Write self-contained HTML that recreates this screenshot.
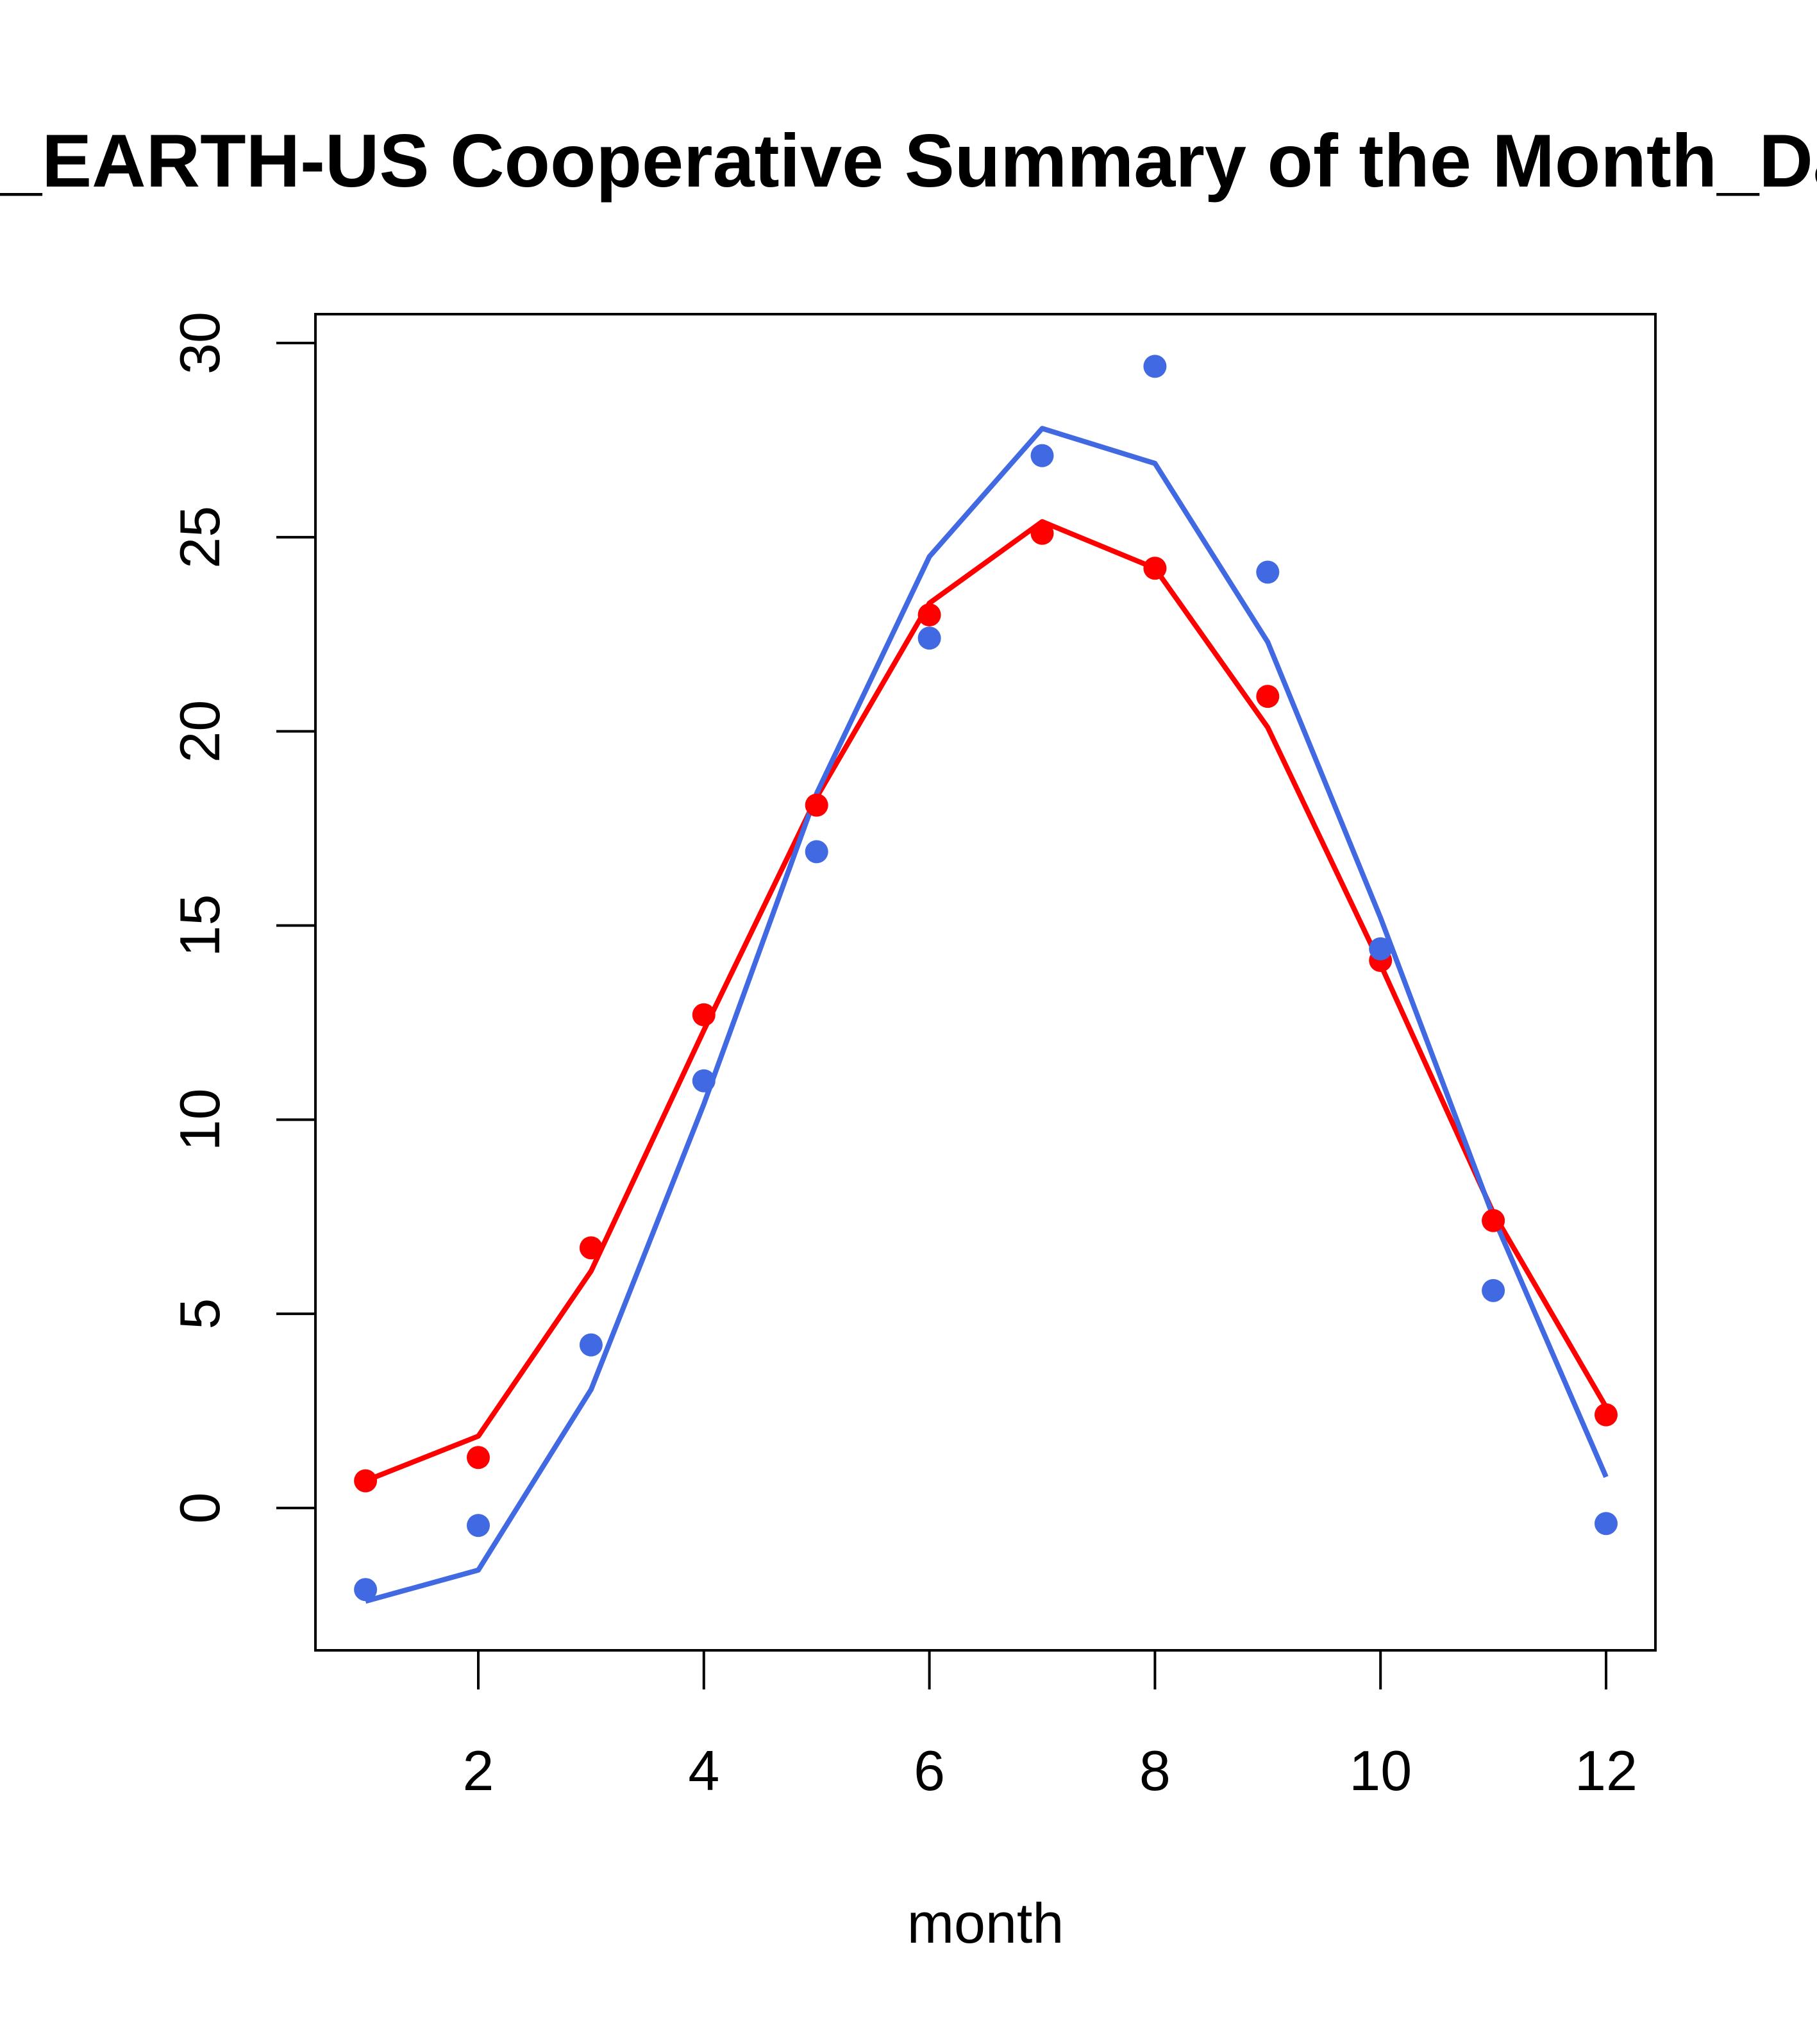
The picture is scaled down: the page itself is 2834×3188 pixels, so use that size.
<!DOCTYPE html>
<html><head><meta charset="utf-8"><style>
html,body{margin:0;padding:0;background:#fff;}
svg{display:block;font-family:"Liberation Sans",Arial,sans-serif;}
</style></head><body>
<svg id="chart" width="2834" height="3188" viewBox="0 0 2834 3188" xmlns="http://www.w3.org/2000/svg">
<rect width="2834" height="3188" fill="#fff"/>
<text x="0" y="291" text-anchor="end" font-size="117" font-weight="bold">GHCN</text>
<text x="0" y="291" text-anchor="start" font-size="117" font-weight="bold">_EARTH-US Cooperative Summary of the Month_Data</text>
<rect x="492" y="490" width="2090" height="2084" fill="none" stroke="#000" stroke-width="4"/>
<g id="axes"></g>
<g id="marks"></g>
<text x="1537" y="3030" text-anchor="middle" font-size="88">month</text>
</svg>
<script>
const months=[1,2,3,4,5,6,7,8,9,10,11,12];
const redPoints=[0.7,1.3,6.7,12.7,18.1,23.0,25.1,24.2,20.9,14.1,7.4,2.4];
const redLine=[0.7,1.85,6.1,12.3,18.3,23.3,25.4,24.2,20.1,14.0,7.6,2.6];
const bluePoints=[-2.1,-0.45,4.2,11.0,16.9,22.4,27.1,29.4,24.1,14.4,5.6,-0.4];
const blueLine=[-2.4,-1.6,3.05,10.4,18.4,24.5,27.8,26.9,22.3,15.2,7.5,0.8];
const xTicks=[2,4,6,8,10,12];
const yTicks=[0,5,10,15,20,25,30];
const NS="http://www.w3.org/2000/svg";
function sx(v){return 746+(v-2)*(2505-746)/10;}
function sy(v){return 2352-v*(2352-535)/30;}
function mk(tag,attrs,parent){const e=document.createElementNS(NS,tag);for(const k in attrs)e.setAttribute(k,attrs[k]);parent.appendChild(e);return e;}
const axes=document.getElementById('axes'),marks=document.getElementById('marks');
xTicks.forEach(t=>{
  const l=mk('line',{x1:sx(t),x2:sx(t),y1:2574,y2:2635,stroke:'#000','stroke-width':4},axes);
  
  
  const tx=mk('text',{x:sx(t),y:2792,'text-anchor':'middle','font-size':88},axes);
  tx.textContent=t;
  
  
});
yTicks.forEach(t=>{
  const l=mk('line',{x1:431,x2:492,y1:sy(t),y2:sy(t),stroke:'#000','stroke-width':4},axes);
  
  
  const tx=mk('text',{x:0,y:0,'text-anchor':'middle','font-size':88,transform:`translate(342,${sy(t)}) rotate(-90)`},axes);
  tx.textContent=t;
  
  
});
function line(vals,color,name){
  const p=mk('polyline',{points:months.map((m,i)=>sx(m)+','+sy(vals[i])).join(' '),fill:'none',stroke:color,'stroke-width':8,'stroke-linejoin':'round'},marks);
  
  
}
function pts(vals,color,name){
  months.forEach((m,i)=>{
    const c=mk('circle',{cx:sx(m),cy:sy(vals[i]),r:18,fill:color},marks);
    
    
  });
}
line(redLine,'#ff0000','red-fit-line');
line(blueLine,'#4169e1','blue-fit-line');
pts(redPoints,'#ff0000','red-point');
pts(bluePoints,'#4169e1','blue-point');
</script>
</body></html>
